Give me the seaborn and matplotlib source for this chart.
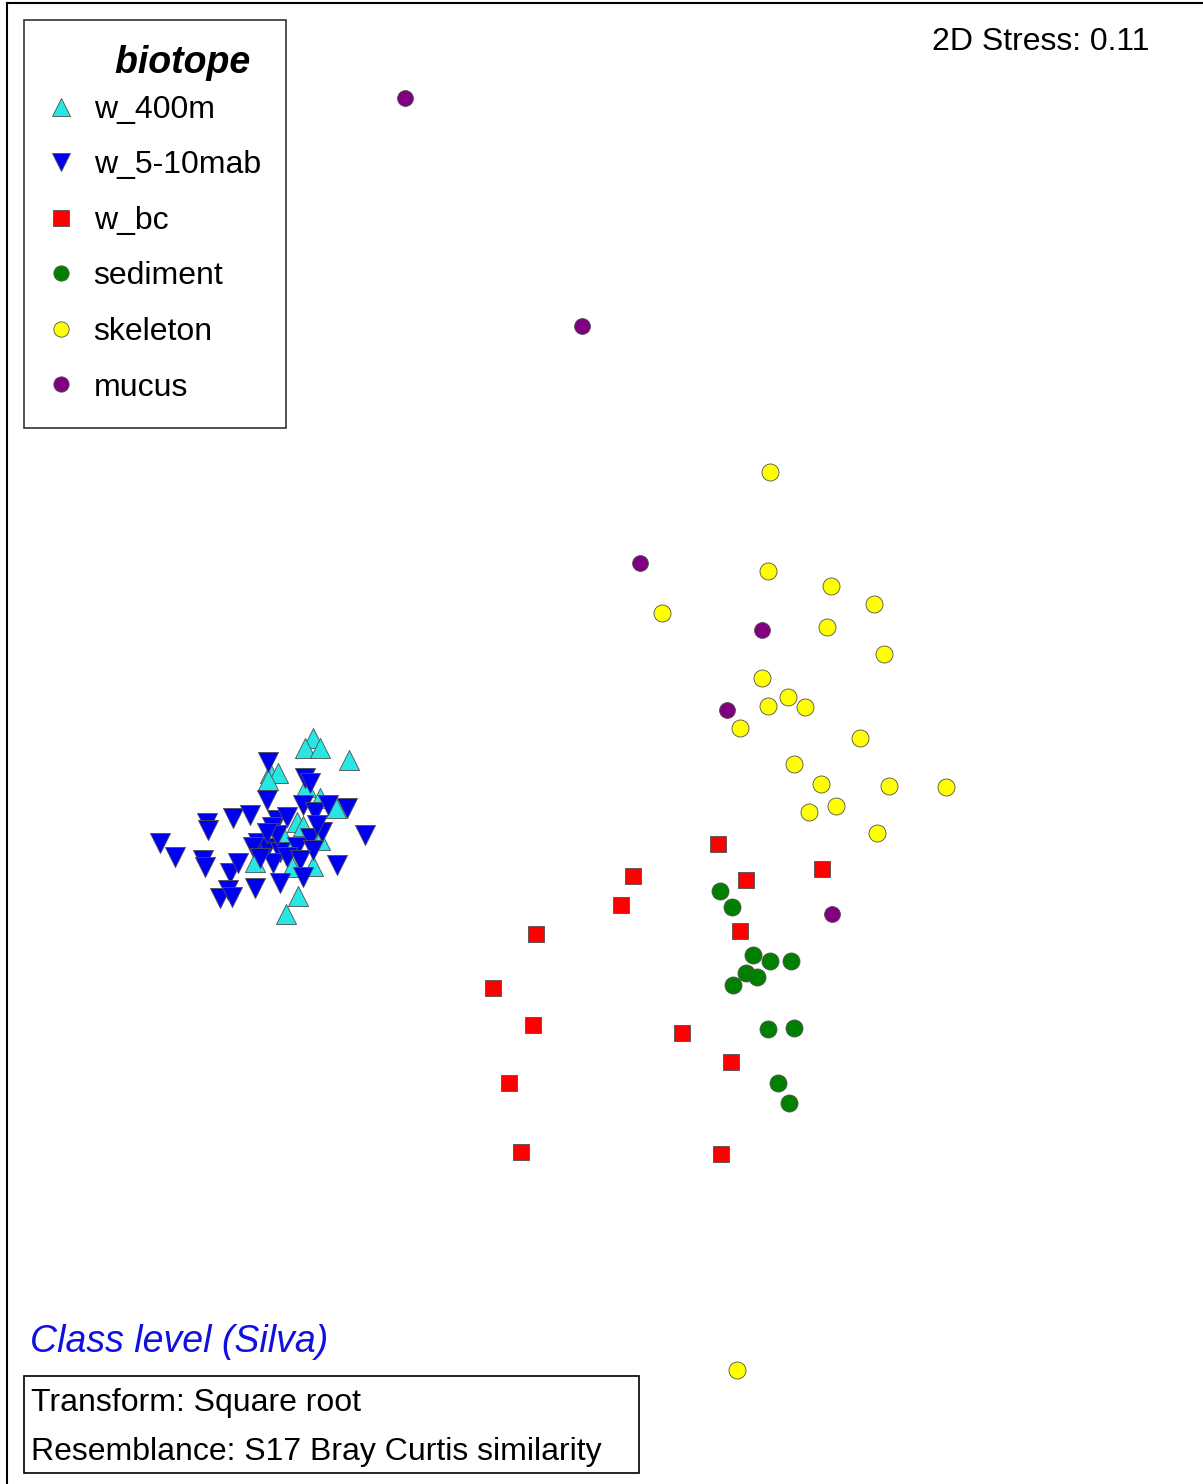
import numpy as np
import pandas as pd
import matplotlib
matplotlib.use("Agg")
import matplotlib.pyplot as plt
from matplotlib.lines import Line2D
from matplotlib.patches import Rectangle
import seaborn as sns

# ---- data (MDS coordinates; units = plot units, y downward) ----
w400_x = [313, 305, 320, 349, 270, 278, 268, 306, 320, 336, 297, 303, 284, 320, 255, 292, 313, 298, 286]
w400_y = [738, 748, 748, 760, 773, 773, 780, 787, 798, 808, 822, 826, 838, 840, 862, 867, 866, 896, 914]

w510_x = [268, 305, 310, 267, 303, 347, 315, 328, 207, 208, 233, 250, 277, 287, 272, 322, 365, 160, 175,
          203, 205, 230, 238, 258, 267, 280, 297, 310, 313, 273, 287, 300, 337, 303, 280, 255, 228, 220,
          232, 253, 260, 277, 267, 317]
w510_y = [762, 778, 783, 800, 805, 808, 812, 805, 823, 830, 818, 815, 820, 817, 827, 832, 835, 843, 857,
          860, 867, 873, 863, 843, 848, 852, 847, 838, 850, 863, 857, 860, 865, 877, 883, 888, 890, 898,
          897, 847, 858, 835, 833, 825]

wbc_x = [718, 822, 633, 746, 621, 740, 536, 493, 533, 682, 731, 509, 521, 721]
wbc_y = [844, 869, 876, 880, 905, 931, 934, 988, 1025, 1033, 1062, 1083, 1152, 1154]

sed_x = [720, 732, 753, 770, 791, 746, 757, 733, 768, 794, 778, 789]
sed_y = [891, 907, 955, 961, 961, 973, 977, 985, 1029, 1028, 1083, 1103]

skel_x = [770, 768, 831, 874, 662, 827, 884, 762, 768, 788, 805, 740, 860, 794, 821, 889, 946, 836, 809, 877, 737]
skel_y = [472, 571, 586, 604, 613, 627, 654, 678, 706, 697, 707, 728, 738, 764, 784, 786, 787, 806, 812, 833, 1370]

muc_x = [405, 582, 640, 762, 727, 832]
muc_y = [98, 326, 563, 630, 710, 914]

groups = ["w_400m", "w_5-10mab", "w_bc", "sediment", "skeleton", "mucus"]
colors = ["#26E6E6", "#0000F0", "#FF0000", "#008000", "#FFFF00", "#800080"]
markers = ["^", "v", "s", "o", "o", "o"]
sizes = [210, 210, 135, 150, 150, 130]
leg_sizes = [13, 13, 11, 11, 11, 11]

xs = [w400_x, w510_x, wbc_x, sed_x, skel_x, muc_x]
ys = [w400_y, w510_y, wbc_y, sed_y, skel_y, muc_y]

frames = []
for g, x, y in zip(groups, xs, ys):
    frames.append(pd.DataFrame({"MDS1": x, "MDS2": y, "biotope": g}))
df = pd.concat(frames, ignore_index=True)

sns.set_style("white")
plt.rcParams["font.family"] = ["Liberation Sans", "DejaVu Sans"]

W, H = 1203, 1484
fig = plt.figure(figsize=(W / 100, H / 100), dpi=100)
ax = fig.add_axes([7 / W, 0, 1 - 7 / W, 1 - 3 / H])

for g, c, m, s in zip(groups, colors, markers, sizes):
    sub = df[df["biotope"] == g]
    sns.scatterplot(data=sub, x="MDS1", y="MDS2", color=c, marker=m, s=s,
                    edgecolor="#505050", linewidth=0.6, ax=ax, legend=False, zorder=3)

ax.set_xlim(7, 1203)
ax.set_ylim(1484, 3)
ax.set_xticks([])
ax.set_yticks([])
ax.set_xlabel("")
ax.set_ylabel("")
for side in ["left", "top"]:
    ax.spines[side].set_color("black")
    ax.spines[side].set_linewidth(1.5)
for side in ["right", "bottom"]:
    ax.spines[side].set_visible(False)

handles = [Line2D([], [], linestyle="none", marker=m, markersize=ms, markerfacecolor=c,
                  markeredgecolor="#505050", markeredgewidth=0.6)
           for c, m, ms in zip(colors, markers, leg_sizes)]
leg = ax.legend(handles, groups, title="biotope ", loc="upper left",
                bbox_to_anchor=(24 / W, 1 - 20 / H), bbox_transform=fig.transFigure,
                borderaxespad=0, fontsize=23,
                title_fontproperties={"size": 27, "weight": "bold", "style": "italic"},
                frameon=True, fancybox=False, edgecolor="black", labelspacing=0.8,
                handletextpad=0.65, borderpad=0.78, handlelength=0.75)
leg.get_frame().set_linewidth(1.2)
leg._legend_box.align = "right"
leg._legend_box.sep = 10
leg.get_title().set_color("black")
for t in leg.get_texts():
    t.set_color("black")

fig.text(1150 / W, 1 - 42 / H, "2D Stress: 0.11", ha="right", va="center", fontsize=23, color="black")
fig.text(30 / W, 1 - 1342 / H, "Class level (Silva)", ha="left", va="center", fontsize=27,
         style="italic", color="#1010E0")
fig.patches.append(Rectangle((24 / W, 1 - 1473 / H), (639 - 24) / W, (1473 - 1376) / H,
                             transform=fig.transFigure, facecolor="white", edgecolor="black",
                             linewidth=1.2, zorder=5))
fig.text(31 / W, 1 - 1403 / H, "Transform: Square root", ha="left", va="center", fontsize=23,
         color="black", zorder=6)
fig.text(31 / W, 1 - 1452 / H, "Resemblance: S17 Bray Curtis similarity", ha="left", va="center",
         fontsize=23, color="black", zorder=6)

fig.savefig("out.png", dpi=100)
